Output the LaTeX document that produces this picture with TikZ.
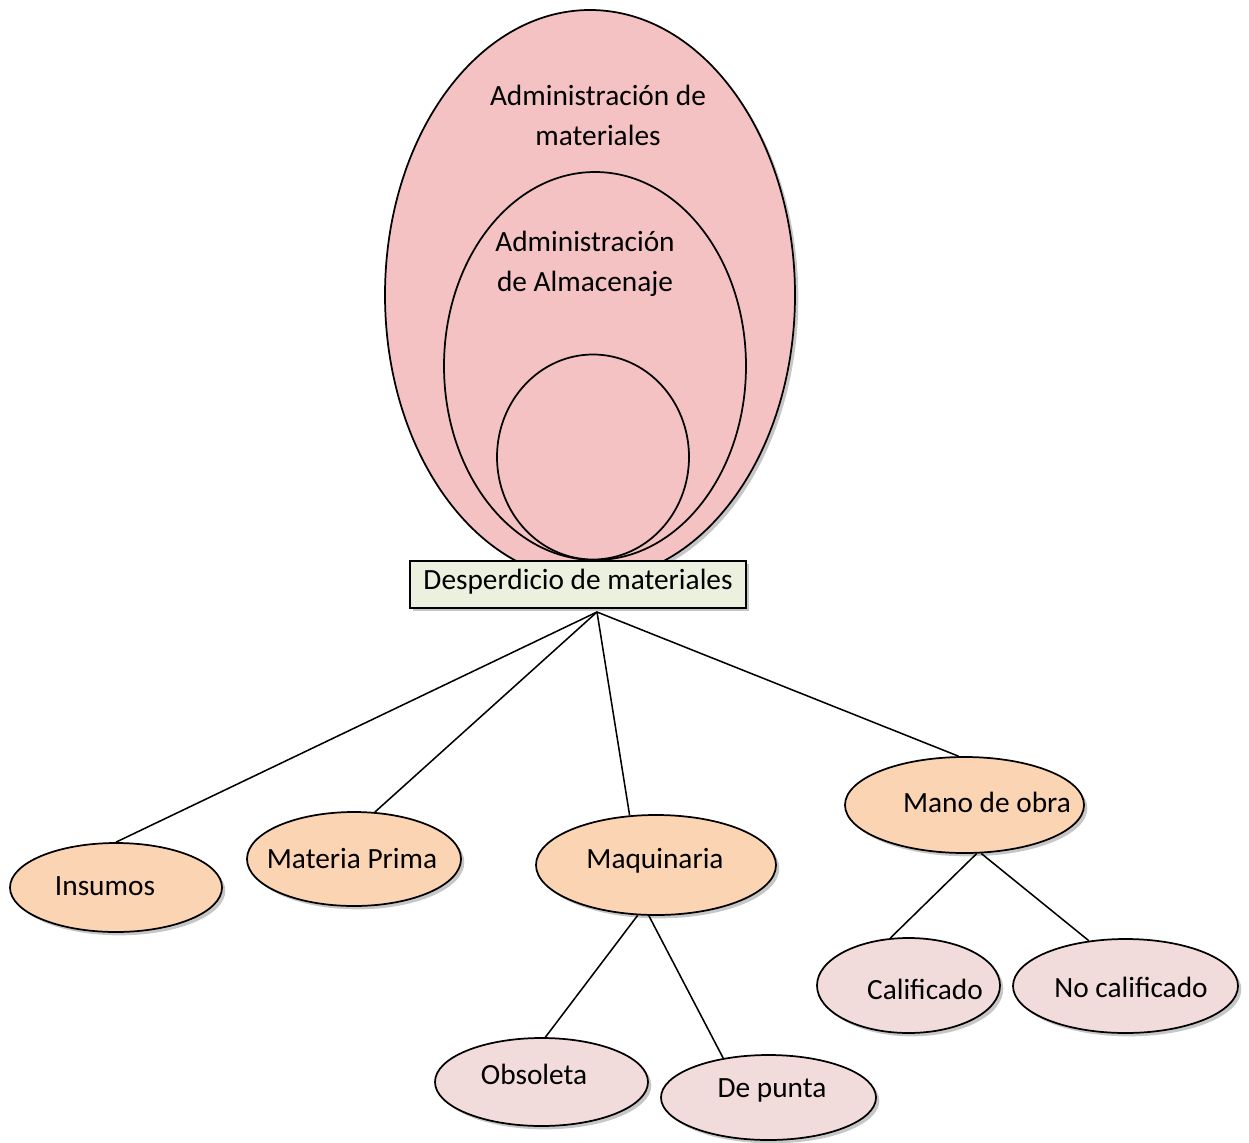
\documentclass[tikz,border=0pt]{standalone}
\usepackage{fontspec}
\setmainfont{Carlito}
\usetikzlibrary{shapes.geometric,shadows}
\newlength\pxu \setlength\pxu{0.75pt}
\definecolor{bigpink}{RGB}{244,194,194}
\definecolor{peach}{RGB}{251,212,180}
\definecolor{lightpink}{RGB}{242,220,219}
\definecolor{boxgreen}{RGB}{235,241,222}
\tikzset{
  shad/.style={drop shadow={shadow xshift=2.5pt, shadow yshift=-2.5pt, fill=black, opacity=0.22}},
  ell/.style={ellipse, draw=black, line width=1.3pt, inner sep=0pt},
  orangeell/.style={ell, fill=peach, shad},
  pinkell/.style={ell, fill=lightpink, shad},
  lbl/.style={font=\fontsize{22}{30}\selectfont, align=center, inner sep=0pt},
  conn/.style={line width=1.15pt, draw=black},
}
\begin{document}
\begin{tikzpicture}[x=0.75pt, y=-0.75pt]
\useasboundingbox (0,0) rectangle (1249,1142);
% nested ellipses
\node[ell, fill=bigpink, shad, minimum width=410\pxu, minimum height=570\pxu] (outer) at (590,295) {};
\node[ell, fill=bigpink, minimum width=302\pxu, minimum height=388\pxu] (middle) at (595,366) {};
\node[ell, fill=bigpink, minimum width=192\pxu, minimum height=205\pxu] (inner) at (593,457) {};
\node[lbl] (outer-t) at (598,115) {Administración de\\materiales};
\node[lbl] (middle-t) at (585,264) {Administración\\de Almacenaje};
% box
\node[draw=black, line width=1.3pt, fill=boxgreen, shad, minimum width=336\pxu, minimum height=47\pxu, inner sep=0pt] (desp) at (578,584.5) {};
\node[lbl] (desp-t) at (578,582) {Desperdicio de materiales};
\coordinate (hub) at (597,612);
% level 1
\node[orangeell, minimum width=212\pxu, minimum height=89\pxu] (ins) at (116,887.5) {};
\node[lbl] (ins-t) at (105,886) {Insumos};
\node[orangeell, minimum width=214\pxu, minimum height=94\pxu] (mp) at (354,859) {};
\node[lbl] (mp-t) at (352,859) {Materia Prima};
\node[orangeell, minimum width=240\pxu, minimum height=100\pxu] (maq) at (656,865) {};
\node[lbl] (maq-t) at (655,861) {Maquinaria};
\node[orangeell, minimum width=239\pxu, minimum height=96\pxu] (mo) at (964.5,805) {};
\node[lbl] (mo-t) at (987,802) {Mano de obra};
% level 2
\node[pinkell, minimum width=213\pxu, minimum height=88\pxu] (obs) at (541.5,1082) {};
\node[lbl] (obs-t) at (534,1074) {Obsoleta};
\node[pinkell, minimum width=215\pxu, minimum height=85\pxu] (dp) at (768.5,1097.5) {};
\node[lbl] (dp-t) at (772,1090) {De punta};
\node[pinkell, minimum width=183\pxu, minimum height=95\pxu] (cal) at (908.5,985.5) {};
\node[lbl] (cal-t) at (925,989) {Calificado};
\node[pinkell, minimum width=225\pxu, minimum height=94\pxu] (nocal) at (1125.5,986) {};
\node[lbl] (nocal-t) at (1131,987) {No calificado};
% connectors
\draw[conn] (hub) -- (ins.north);
\draw[conn] (hub) -- (mp.66);
\draw[conn] (hub) -- (maq.118);
\draw[conn] (hub) -- (mo.97);
\draw[conn] (maq.250) -- (obs.85);
\draw[conn] (maq.262) -- (dp.139);
\draw[conn] (mo.284) -- (cal.111);
\draw[conn] (mo.289) -- (nocal.129);
\end{tikzpicture}
\end{document}
